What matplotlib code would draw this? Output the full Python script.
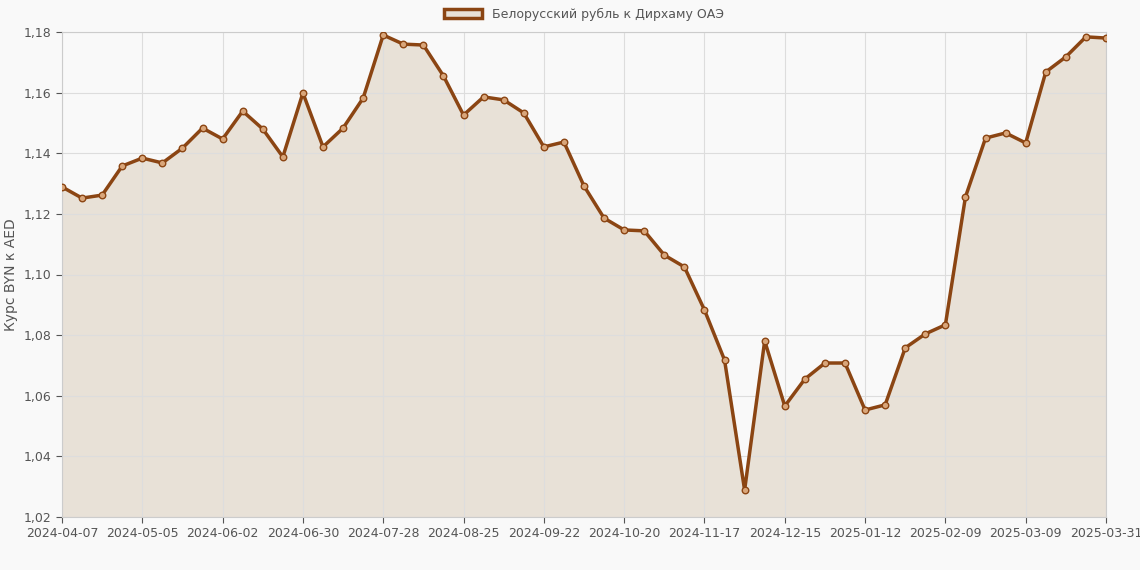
import matplotlib.pyplot as plt
from matplotlib.patches import Patch
import numpy as np
import datetime as dt

# weekly rates
kurs = [1.1289, 1.1252, 1.1262, 1.1358, 1.1384, 1.1368, 1.1417, 1.1483, 1.1447, 1.1539,
        1.1480, 1.1388, 1.1599, 1.1421, 1.1483, 1.1582, 1.1790, 1.1760, 1.1757, 1.1655,
        1.1526, 1.1586, 1.1576, 1.1533, 1.1421, 1.1437, 1.1292, 1.1186, 1.1147, 1.1144,
        1.1064, 1.1025, 1.0883, 1.0718, 1.0289, 1.0781, 1.0566, 1.0655, 1.0708, 1.0708,
        1.0553, 1.0570, 1.0758, 1.0804, 1.0834, 1.1256, 1.1450, 1.1467, 1.1434, 1.1668,
        1.1718, 1.1784, 1.1780]
start = dt.date(2024, 4, 7)
datas = [(start + dt.timedelta(weeks=i)).isoformat() for i in range(len(kurs) - 1)] + ['2025-03-31']

cor = '#8B4513'
x = np.arange(len(kurs))

fig = plt.figure(figsize=(11.4, 5.7), dpi=100, facecolor='#f9f9f9')
ax = fig.add_axes([62/1140, 1-517/570, (1106-62)/1140, (517-32)/570])
ax.set_facecolor('#f9f9f9')

ax.fill_between(x, kurs, 1.02, color='#e8e1d7', zorder=1)
ax.plot(x, kurs, color=cor, lw=2.5, zorder=3)
ax.scatter(x, kurs, s=22, facecolor='#d9a67a', edgecolor=cor, lw=1, zorder=4)

ax.set_xlim(0, len(kurs) - 1)
ax.set_ylim(1.02, 1.18)
ticks = list(range(0, len(kurs) - 1, 4)) + [len(kurs) - 1]
ax.set_xticks(ticks)
ax.set_xticklabels([datas[i] for i in ticks])
yt = np.arange(1.02, 1.1801, 0.02)
ax.set_yticks(yt)
ax.set_yticklabels([('%.2f' % v).replace('.', ',') for v in yt])
ax.tick_params(colors='#555555', labelsize=9, length=4)
ax.grid(color='#dddddd', lw=0.8)
for s in ax.spines.values():
    s.set_color('#cccccc')
ax.set_ylabel('Курс BYN к AED', color='#555555', fontsize=10)

ax.legend(handles=[Patch(facecolor='#e8e1d7', edgecolor=cor, lw=2.5, label='Белорусский рубль к Дирхаму ОАЭ')],
          loc='lower center', bbox_to_anchor=(0.5, 1.0), frameon=False, fontsize=9,
          labelcolor='#555555', handlelength=3)

plt.savefig('out.png', dpi=100, facecolor=fig.get_facecolor())
